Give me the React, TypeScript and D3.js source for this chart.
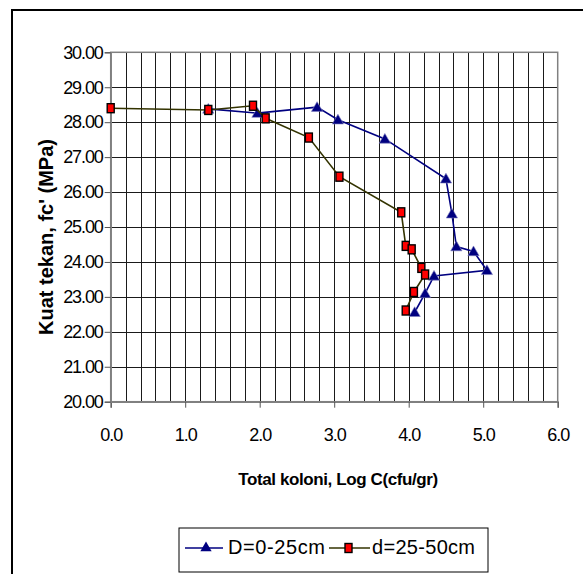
import React, { useEffect, useRef } from "react";
import * as d3 from "d3";

// series D=0-25cm (triangles)
const upperX = [1.31, 1.97, 2.77, 3.05, 3.68, 4.5, 4.58, 4.64, 4.87, 5.05, 4.34, 4.22, 4.08];
const upperY = [28.38, 28.26, 28.43, 28.07, 27.52, 26.38, 25.38, 24.44, 24.3, 23.76, 23.6, 23.1, 22.56];

// series d=25-50cm (squares)
const lowerX = [0.0, 1.31, 1.91, 2.08, 2.66, 3.07, 3.9, 3.96, 4.04, 4.17, 4.22, 4.07, 3.96];
const lowerY = [28.4, 28.35, 28.47, 28.11, 27.56, 26.44, 25.42, 24.46, 24.36, 23.83, 23.64, 23.14, 22.61];

const xTicks = [0, 1, 2, 3, 4, 5, 6];
const yTicks = [20, 21, 22, 23, 24, 25, 26, 27, 28, 29, 30];
const seriesNames = ["D=0-25cm", "d=25-50cm"];

const FONT = "Arial, 'Liberation Sans', sans-serif";

const Chart = () => {
  const ref = useRef(null);

  useEffect(() => {
    const root = d3.select(ref.current);
    root.selectAll("*").remove();

    const svg = root
      .append("svg")
      .attr("width", 583)
      .attr("height", 574)
      .style("position", "absolute")
      .style("left", "0px")
      .style("top", "0px")
      .style("background", "#fff");

    // outer chart frame, runs off the right and bottom
    svg
      .append("rect")
      .attr("x", 12)
      .attr("y", 10)
      .attr("width", 700)
      .attr("height", 700)
      .attr("fill", "#fff")
      .attr("stroke", "#000")
      .attr("stroke-width", 2);

    const left = 110.7, right = 557.7, top = 52.3, bottom = 401.7;

    const x = d3.scaleLinear().domain([0, 6]).range([left, right]);
    const y = d3.scaleLinear().domain([20, 30]).range([bottom, top]);

    const grid = svg.append("g").attr("shape-rendering", "crispEdges");
    grid
      .selectAll(".vg")
      .data(d3.range(1, 30).map((i) => i * 0.2))
      .enter()
      .append("line")
      .attr("x1", (d) => Math.round(x(d)) + 0.5)
      .attr("x2", (d) => Math.round(x(d)) + 0.5)
      .attr("y1", top)
      .attr("y2", bottom)
      .attr("stroke", "#1a1a1a");
    grid
      .selectAll(".hg")
      .data(yTicks.slice(1, -1))
      .enter()
      .append("line")
      .attr("x1", left)
      .attr("x2", right)
      .attr("y1", (d) => Math.round(y(d)) + 0.5)
      .attr("y2", (d) => Math.round(y(d)) + 0.5)
      .attr("stroke", "#1a1a1a");

    svg
      .append("rect")
      .attr("x", left)
      .attr("y", top)
      .attr("width", right - left)
      .attr("height", bottom - top)
      .attr("fill", "none")
      .attr("stroke", "#808080")
      .attr("stroke-width", 1.5);

    const xAxis = svg
      .append("g")
      .attr("transform", `translate(0, ${bottom})`)
      .call(d3.axisBottom(x).tickValues(xTicks).tickSize(6).tickFormat(d3.format(".1f")));
    xAxis.select(".domain").attr("stroke", "#808080").attr("stroke-width", 1.5);
    xAxis.selectAll(".tick line").attr("stroke", "#555");
    xAxis
      .selectAll(".tick text")
      .attr("y", 27)
      .attr("dy", "0.71em")
      .attr("font-family", FONT)
      .attr("font-size", 18)
      .attr("letter-spacing", -1)
      .attr("fill", "#000");

    const yAxis = svg
      .append("g")
      .attr("transform", `translate(${left}, 0)`)
      .call(d3.axisLeft(y).tickValues(yTicks).tickSize(6).tickFormat(d3.format(".2f")));
    yAxis.select(".domain").attr("stroke", "#808080").attr("stroke-width", 1.5);
    yAxis.selectAll(".tick line").attr("stroke", "#555");
    yAxis
      .selectAll(".tick text")
      .attr("x", -8)
      .attr("font-family", FONT)
      .attr("font-size", 18)
      .attr("letter-spacing", -1.1)
      .attr("fill", "#000");

    svg
      .append("text")
      .attr("x", 338)
      .attr("y", 485)
      .attr("text-anchor", "middle")
      .attr("font-family", FONT)
      .attr("font-size", 17)
      .attr("font-weight", "bold")
      .attr("letter-spacing", -0.4)
      .text("Total koloni, Log C(cfu/gr)");

    svg
      .append("text")
      .attr("transform", `translate(53, 237) rotate(-90)`)
      .attr("text-anchor", "middle")
      .attr("font-family", FONT)
      .attr("font-size", 20)
      .attr("font-weight", "bold")
      .text("Kuat tekan, fc' (MPa)");

    const line = d3
      .line()
      .x((d) => x(d[0]))
      .y((d) => y(d[1]));

    const upper = upperX.map((v, i) => [v, upperY[i]]);
    const lower = lowerX.map((v, i) => [v, lowerY[i]]);

    const tri = d3.symbol().type(d3.symbolTriangle).size(55);

    svg
      .append("path")
      .datum(upper)
      .attr("d", line)
      .attr("fill", "none")
      .attr("stroke", "#000080")
      .attr("stroke-width", 1.6);
    svg
      .selectAll(".tri")
      .data(upper)
      .enter()
      .append("path")
      .attr("d", tri)
      .attr("transform", (d) => `translate(${x(d[0])}, ${y(d[1]) + 1})`)
      .attr("fill", "#000080")
      .attr("stroke", "#8080c0")
      .attr("stroke-width", 0.6);

    svg
      .append("path")
      .datum(lower)
      .attr("d", line)
      .attr("fill", "none")
      .attr("stroke", "#333300")
      .attr("stroke-width", 1.6);
    svg
      .selectAll(".sq")
      .data(lower)
      .enter()
      .append("rect")
      .attr("x", (d) => x(d[0]) - 3.5)
      .attr("y", (d) => y(d[1]) - 4.5)
      .attr("width", 7)
      .attr("height", 9)
      .attr("fill", "#ff0000")
      .attr("stroke", "#000")
      .attr("stroke-width", 1.4);

    // legend
    const lg = svg.append("g");
    lg.append("rect")
      .attr("x", 179)
      .attr("y", 528)
      .attr("width", 309)
      .attr("height", 44)
      .attr("fill", "#fff")
      .attr("stroke", "#000")
      .attr("stroke-width", 1);
    const ly = 548;
    lg.append("line").attr("x1", 185).attr("x2", 223).attr("y1", ly).attr("y2", ly)
      .attr("stroke", "#000080").attr("stroke-width", 1.6);
    lg.append("path").attr("d", tri).attr("transform", `translate(206, ${ly})`).attr("fill", "#000080");
    lg.append("text").attr("x", 228).attr("y", ly).attr("dy", "0.3em")
      .attr("font-family", FONT).attr("font-size", 20).attr("letter-spacing", 0.6)
      .text(seriesNames[0]);
    lg.append("line").attr("x1", 329).attr("x2", 370).attr("y1", ly).attr("y2", ly)
      .attr("stroke", "#333300").attr("stroke-width", 1.6);
    lg.append("rect").attr("x", 345).attr("y", ly - 4.5).attr("width", 7).attr("height", 9)
      .attr("fill", "#ff0000").attr("stroke", "#000").attr("stroke-width", 1.4);
    lg.append("text").attr("x", 372).attr("y", ly).attr("dy", "0.3em")
      .attr("font-family", FONT).attr("font-size", 20).attr("letter-spacing", 0.3)
      .text(seriesNames[1]);
  }, []);

  return <div ref={ref} />;
};

export default function App() {
  return <Chart />;
}
